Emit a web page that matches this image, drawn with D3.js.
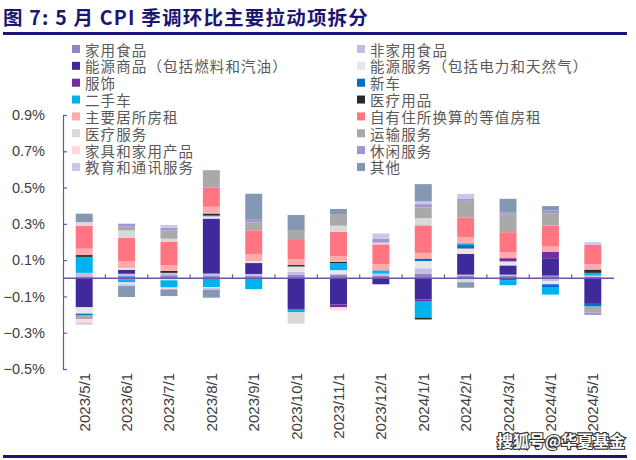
<!DOCTYPE html>
<html><head><meta charset="utf-8">
<script src="https://cdn.jsdelivr.net/npm/d3@7"></script>
<style>
html,body{margin:0;padding:0;background:#fff;}
svg{display:block;}
</style>
</head><body>
<svg id="chart" width="636" height="460"></svg>
<script>
// ---------- data ----------
const months = ["2023/5/1","2023/6/1","2023/7/1","2023/8/1","2023/9/1","2023/10/1","2023/11/1","2023/12/1","2024/1/1","2024/2/1","2024/3/1","2024/4/1","2024/5/1"];
const seriesNames = ["家用食品","非家用食品","能源商品（包括燃料和汽油）","能源服务（包括电力和天然气）","服饰","新车","二手车","医疗用品","主要居所房租","自有住所换算的等值房租","医疗服务","运输服务","家具和家用产品","休闲服务","教育和通讯服务","其他"];
const yTicks = [0.9,0.7,0.5,0.3,0.1,-0.1,-0.3,-0.5];

const foodAtHome      = [0.010,0.015,0.017,0.013,0.012,0.020,0.020,0.015,0.025,0.015,0.015,0.015,0.008];
const foodAway        = [0.020,0.010,0.013,0.013,0.012,0.015,0.005,0.011,0.030,0.005,0.005,-0.015,0.007];
const energyGoods     = [-0.160,0.022,0.000,0.303,0.060,-0.173,-0.145,-0.033,-0.116,0.114,0.051,0.092,-0.141];
const energyServices  = [-0.035,0.010,-0.011,0.013,0.010,0.030,0.020,0.000,0.040,0.030,0.022,-0.018,0.000];
const apparel         = [0,0,0,0,0,0,-0.015,0,-0.013,0.008,0.018,0.040,0];
const newCars         = [-0.010,-0.005,0,0.005,0,0,0,0,0.014,0.011,-0.010,-0.015,-0.015];
const usedCars        = [0.088,-0.018,-0.040,-0.048,-0.060,-0.013,0.039,0.018,-0.088,0.010,-0.028,-0.042,0.015];
const medicalGoods    = [0.010,0,0.011,0.010,0,0.008,0.007,0,-0.010,0,0,0,0.018];
const rentPrimary     = [0.035,0.037,0.031,0.037,0.040,0.033,0.030,0.033,0.031,0.035,0.033,0.028,0.031];
const ownersRent      = [0.127,0.128,0.128,0.105,0.130,0.105,0.136,0.110,0.152,0.107,0.110,0.116,0.105];
const medicalServices = [0.020,0.042,0.018,0,0,-0.064,0.033,0.010,0.040,-0.022,0,0,0];
const transportation  = [-0.020,0.022,0.046,0.097,0.044,0.055,0.064,0,0.059,0.092,0.099,0.068,-0.033];
const furnishings     = [-0.020,-0.010,-0.010,-0.005,-0.005,0,-0.017,0,0,0,0,0,0];
const recreation      = [0,0.015,0.015,0,0.015,0,0,0.020,0.018,0.010,0.010,0.015,-0.013];
const education       = [-0.010,-0.010,0.015,-0.010,0,0,0,0.030,0.015,0.028,0,0,0.015];
const others          = [0.046,-0.060,-0.037,-0.044,0.143,0.083,0.028,0,0.095,-0.030,0.075,0.024,0];

const seriesValues = [foodAtHome,foodAway,energyGoods,energyServices,apparel,newCars,usedCars,medicalGoods,rentPrimary,ownersRent,medicalServices,transportation,furnishings,recreation,education,others];

// ---------- style ----------
const colors = ["#8f84c6","#c4bbe6","#40299b","#e6e6e6","#7030a0","#0a6fc2","#00b2ee","#2a2a2a","#ffabae","#ff7682","#d9d9d9","#a9a9a9","#ffdadd","#a395d2","#cec5ea","#8497b3"];
const axisColor = "#6a55ac";
const navy = "#1c1672";
const latin = "'Liberation Sans', Arial, sans-serif";
const cjk = "'Noto Sans CJK SC', 'Noto Sans', sans-serif";

const svg = d3.select("#chart");
svg.append("rect").attr("width",636).attr("height",460).attr("fill","#fff");

// title
svg.append("text").attr("x",3).attr("y",25)
  .attr("font-family",cjk).attr("font-weight","bold").attr("font-size",19.5)
  .attr("letter-spacing",1.2)
  .attr("fill",navy).text("图 7: 5 月  CPI 季调环比主要拉动项拆分");
svg.append("rect").attr("x",3).attr("y",32).attr("width",624).attr("height",3).attr("fill",navy);
svg.append("rect").attr("x",3).attr("y",455).attr("width",624).attr("height",3).attr("fill",navy);

// scales
const x = d3.scaleBand().domain(months).range([63,614]).paddingInner(0.6).paddingOuter(0.3);
const y = d3.scaleLinear().domain([-0.5,0.9]).range([369,115]);

// stacked data
const table = months.map((m,i)=>{ const o={month:m}; seriesNames.forEach((s,j)=>o[s]=seriesValues[j][i]); return o; });
const stacked = d3.stack().keys(seriesNames).offset(d3.stackOffsetDiverging)(table);

const g = svg.append("g");
stacked.forEach((layer,j)=>{
  g.append("g").attr("fill",colors[j])
    .selectAll("rect").data(layer).join("rect")
    .attr("x",d=>x(d.data.month))
    .attr("width",x.bandwidth())
    .attr("y",d=>y(Math.max(d[0],d[1])))
    .attr("height",d=>Math.abs(y(d[0])-y(d[1])));
});

// y axis
const yAxis = d3.axisLeft(y).tickValues(yTicks).tickFormat(d=>d3.format(".1f")(d)+"%")
  .tickSizeInner(-4).tickSizeOuter(-4).tickPadding(18);
const ya = svg.append("g").attr("transform","translate(63,0)").call(yAxis);
ya.select(".domain").attr("stroke",axisColor).attr("stroke-width",1.2);
ya.selectAll(".tick line").attr("stroke",axisColor).attr("stroke-width",1.2);
ya.selectAll(".tick text").attr("font-family",latin).attr("font-size",14.5).attr("fill","#404040");

// x axis (zero line with ticks between categories)
const x0 = x.range()[0], x1 = x.range()[1], step = x.step();
svg.append("line").attr("x1",x0).attr("x2",x1).attr("y1",y(0)).attr("y2",y(0))
  .attr("stroke",axisColor).attr("stroke-width",1.5);
svg.append("g").selectAll("line").data(d3.range(1,months.length)).join("line")
  .attr("x1",k=>x0+k*step).attr("x2",k=>x0+k*step)
  .attr("y1",y(0)).attr("y2",y(0)-4)
  .attr("stroke",axisColor).attr("stroke-width",1.2);

svg.append("g").selectAll("text").data(months).join("text")
  .attr("transform",d=>`translate(${x(d)+x.bandwidth()/2},373) rotate(-90)`)
  .attr("text-anchor","end").attr("dominant-baseline","central")
  .attr("font-family",latin).attr("font-size",15).attr("fill","#404040")
  .text(d=>d);

// legend
const leg = svg.append("g");
seriesNames.forEach((s,j)=>{
  const col = j%2, row = Math.floor(j/2);
  const lx = col===0 ? 72 : 357, ly = 49 + row*16.85;
  leg.append("rect").attr("x",lx).attr("y",ly-4).attr("width",8).attr("height",8).attr("fill",colors[j]);
  leg.append("text").attr("x",lx+13).attr("y",ly).attr("dominant-baseline","central")
    .attr("font-family",cjk).attr("font-size",14.5).attr("letter-spacing",1.1)
    .attr("fill","#595959").text(s);
});

// watermark
svg.append("text").attr("x",625).attr("y",447).attr("text-anchor","end")
  .attr("font-family",cjk).attr("font-weight","bold").attr("font-size",16)
  .attr("fill","#fff").attr("stroke","#333").attr("stroke-width",2.2)
  .attr("paint-order","stroke").text("搜狐号@华夏基金");
</script>
</body></html>
